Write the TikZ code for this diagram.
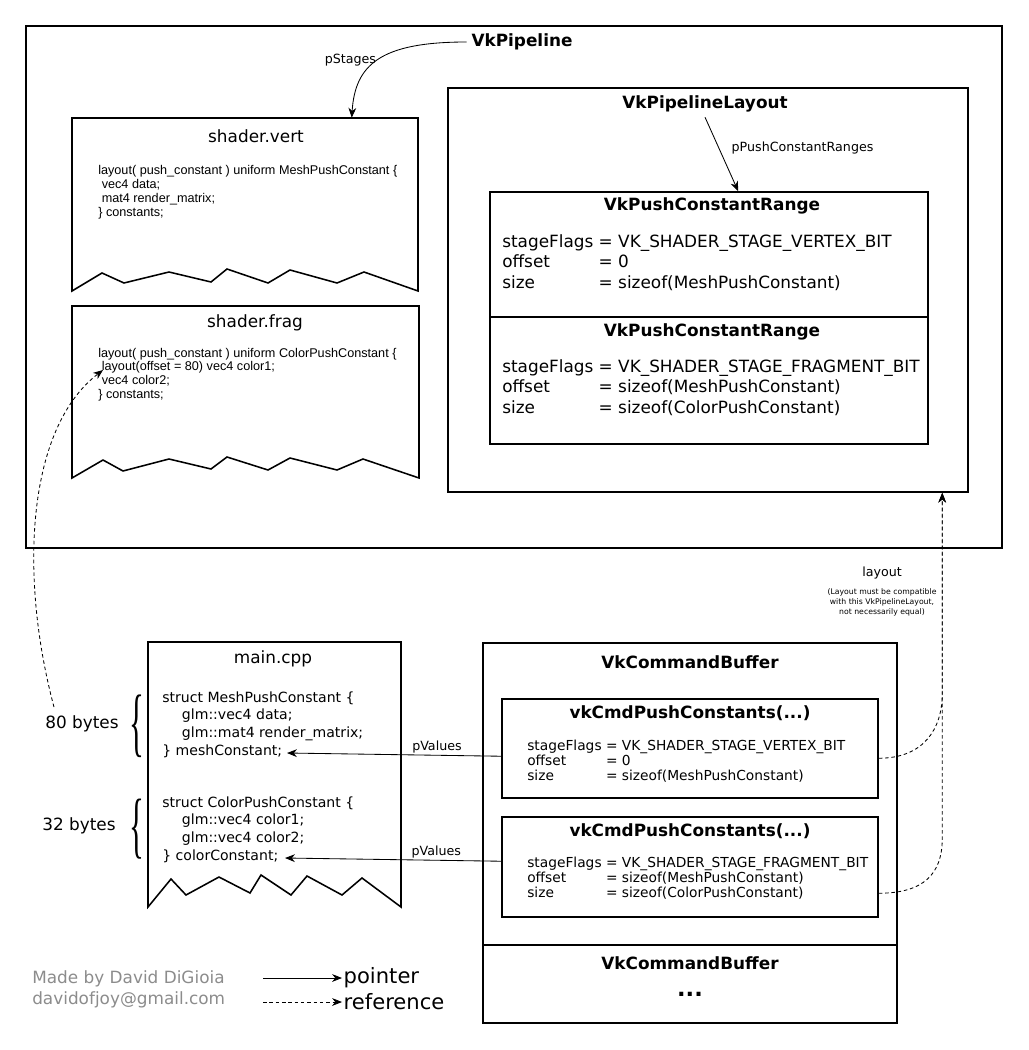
\documentclass[tikz,border=0pt]{standalone}
\usepackage{fontspec}
\setmainfont{DejaVu Sans}
\newfontfamily\codefont{Liberation Sans}
\newfontfamily\bracefont{Liberation Serif}
\usepackage{graphicx}
\usepackage{xcolor}
\definecolor{madeGray}{HTML}{8C8C8C}
\usetikzlibrary{arrows.meta,fit,calc}

\tikzset{
  frame/.style={draw, line width=1.1pt, inner sep=0pt},
  doc/.style={draw, line width=1.1pt},
  title/.style={font=\bfseries\fontsize{12}{14}\selectfont},
  file/.style={font=\fontsize{12}{14}\selectfont},
  lbl/.style={font=\fontsize{9}{11}\selectfont, inner sep=1pt},
  code/.style={font=\codefont\fontsize{9}{9.75}\selectfont, inner sep=0pt, anchor=base west},
  cpp/.style={font=\fontsize{10}{12.6}\selectfont, inner sep=0pt, anchor=base west},
  field/.style={font=\fontsize{12}{14.6}\selectfont, inner sep=0pt, anchor=base west},
  call/.style={font=\fontsize{9.8}{11}\selectfont, inner sep=0pt, anchor=base west},
  curly/.style={font=\bracefont\fontsize{22}{22}\selectfont, inner sep=0pt},
  ptr/.style={-{Stealth[length=7pt,width=5.5pt,inset=2.2pt]}, line width=0.6pt},
  ref/.style={ptr, dash pattern=on 2.5pt off 2pt},
}

\begin{document}
\begin{tikzpicture}[x=0.025cm, y=-0.025cm]
  \useasboundingbox (0,0) rectangle (1028,1050);

  % pipeline
  \node[frame, fit={(26,26) (1002,548)}] (pipe) {};
  \node[title] (pipetitle) at (522,42) {VkPipeline};

  % shader.vert
  \draw[doc] (72,118) -- (418,118) -- (418,291) -- (364,272) -- (337,283) -- (290,270) -- (268,283) -- (227,269) -- (211,282) -- (169,272) -- (124,283) -- (102,273) -- (72,291) -- cycle;
  \node[fit={(72,118) (418,291)}, inner sep=0pt] (vert) {};
  \node[file] (verttitle) at (256,136) {shader.vert};
  \node[code] (vertcode) at (98,175) {\begin{tabular}[t]{@{}l@{}}layout( push\_constant ) uniform MeshPushConstant \{\\ ~vec4 data;\\ ~mat4 render\_matrix;\\ \} constants;\end{tabular}};

  % shader.frag
  \draw[doc] (72,306) -- (419,306) -- (419,478) -- (363,459) -- (337,470) -- (290,458) -- (268,470) -- (227,457) -- (211,469) -- (169,459) -- (123,471) -- (103,460) -- (72,478) -- cycle;
  \node[fit={(72,306) (419,478)}, inner sep=0pt] (frag) {};
  \node[file] (fragtitle) at (255,323) {shader.frag};
  \node[code] (fragcode) at (98,357) {\begin{tabular}[t]{@{}l@{}}layout( push\_constant ) uniform ColorPushConstant \{\\ ~layout(offset = 80) vec4 color1;\\ ~vec4 color2;\\ \} constants;\end{tabular}};
  \coordinate (fragtip) at (103,370);

  % pipeline layout
  \node[frame, fit={(448,88) (968,492)}] (layout) {};
  \node[title] (laytitle) at (705,104) {VkPipelineLayout};
  \node[frame, fit={(490,192) (928,444)}] (ranges) {};
  \draw[line width=1.1pt] ($(ranges.north west)+(0,126)$) -- ($(ranges.north east)+(0,126)$);
  \node[title] (rangeAtitle) at (712,206) {VkPushConstantRange};
  \node[field] (rangeA) at (502,247) {\begin{tabular}[t]{@{}l@{\ }l@{}}stageFlags & = VK\_SHADER\_STAGE\_VERTEX\_BIT\\ offset & = 0\\ size & = sizeof(MeshPushConstant)\end{tabular}};
  \node[title] (rangeBtitle) at (712,332) {VkPushConstantRange};
  \node[field] (rangeB) at (502,372) {\begin{tabular}[t]{@{}l@{\ }l@{}}stageFlags & = VK\_SHADER\_STAGE\_FRAGMENT\_BIT\\ offset & = sizeof(MeshPushConstant)\\ size & = sizeof(ColorPushConstant)\end{tabular}};
  \coordinate (laytip) at ($(layout.south west)+(495,0)$);

  \draw[ptr] (pipetitle.west) .. controls (380,42) and (355,65) .. node[lbl, left, pos=0.5] {pStages} ($(vert.north west)+(280,0)$);
  \draw[ptr] (laytitle.south) -- node[lbl, right=8pt, pos=0.41] {pPushConstantRanges} ($(ranges.north west)+(249,0)$);

  % main.cpp
  \draw[doc] (148,642) -- (401,642) -- (401,907) -- (362,878) -- (342,895) -- (307,876) -- (291,895) -- (261,875) -- (250,893) -- (219,877) -- (186,895) -- (171,879) -- (148,907) -- cycle;
  \node[file] (maintitle) at (273,659) {main.cpp};
  \node[cpp] (meshcode) at (162,702) {\begin{tabular}[t]{@{}l@{}}struct MeshPushConstant \{\\ \hspace{14pt}glm::vec4 data;\\ \hspace{14pt}glm::mat4 render\_matrix;\\ \} meshConstant;\end{tabular}};
  \node[cpp] (colorcode) at (162,807) {\begin{tabular}[t]{@{}l@{}}struct ColorPushConstant \{\\ \hspace{14pt}glm::vec4 color1;\\ \hspace{14pt}glm::vec4 color2;\\ \} colorConstant;\end{tabular}};
  \coordinate (meshend) at (287,753);
  \coordinate (colorend) at (285,858);

  \node[file] (b80) at (82,724) {80 bytes};
  \node[curly] (braceA) at (137,726) {\scalebox{1}[2.45]{\{}};
  \node[file] (b32) at (79,826) {32 bytes};
  \node[curly] (braceB) at (137,829) {\scalebox{1}[2.35]{\{}};
  \coordinate (bytesfrom) at (54,707);

  % command buffer
  \node[frame, fit={(483,643) (897,1023)}] (cmdbuf) {};
  \draw[line width=1.1pt] ($(cmdbuf.south west)+(0,-79)$) -- ($(cmdbuf.south east)+(0,-79)$);
  \node[title] (cmdtitle) at (690,662) {VkCommandBuffer};
  \node[frame, fit={(502,699) (878,798)}] (cmdA) {};
  \node[title] (cmdAtitle) at (690,713) {vkCmdPushConstants(...)};
  \node[call] (cmdAargs) at (527,750) {\begin{tabular}[t]{@{}l@{\ }l@{}}stageFlags & = VK\_SHADER\_STAGE\_VERTEX\_BIT\\ offset & = 0\\ size & = sizeof(MeshPushConstant)\end{tabular}};
  \node[frame, fit={(502,817) (878,917)}] (cmdB) {};
  \node[title] (cmdBtitle) at (690,831) {vkCmdPushConstants(...)};
  \node[call] (cmdBargs) at (527,867) {\begin{tabular}[t]{@{}l@{\ }l@{}}stageFlags & = VK\_SHADER\_STAGE\_FRAGMENT\_BIT\\ offset & = sizeof(MeshPushConstant)\\ size & = sizeof(ColorPushConstant)\end{tabular}};
  \node[title] (nexttitle) at (690,963) {VkCommandBuffer};
  \node[font=\bfseries\fontsize{16}{16}\selectfont] (dots) at (690,994) {...};

  \draw[ptr] ($(cmdA.north west)+(0,58)$) -- node[lbl, above, pos=0.3] {pValues} (meshend);
  \draw[ptr] ($(cmdB.north west)+(0,45)$) -- node[lbl, above, pos=0.3] {pValues} (colorend);

  \node[lbl] (laylbl) at (882,573) {layout};
  \node[font=\fontsize{5.5}{7.1}\selectfont, align=center, inner sep=0pt] (laynote) at (882,602) {(Layout must be compatible\\with this VkPipelineLayout,\\not necessarily equal)};
  \draw[ref] ($(cmdA.north east)+(0,60)$) .. controls +(45,0) and +(0,35) .. ($(laytip)+(0,201)$) -- (laytip);
  \draw[ref] ($(cmdB.north east)+(0,77)$) .. controls +(45,0) and +(0,35) .. ($(laytip)+(0,346)$) -- (laytip);
  \draw[ref] (bytesfrom) .. controls (20,580) and (25,430) .. (fragtip);

  % legend
  \node[font=\fontsize{12}{15.6}\selectfont, text=madeGray, inner sep=0pt, anchor=base west] (made) at (32,983) {\begin{tabular}[t]{@{}l@{}}Made by David DiGioia\\ davidofjoy@gmail.com\end{tabular}};
  \node[font=\fontsize{15}{18}\selectfont, anchor=west, inner sep=1pt] (ptrlbl) at (342,978) {pointer};
  \node[font=\fontsize{15}{18}\selectfont, anchor=west, inner sep=1pt] (reflbl) at (342,1002) {reference};
  \coordinate (ptrfrom) at (263,978);
  \coordinate (reffrom) at (263,1002);
  \draw[ptr] (ptrfrom) -- (ptrlbl.west);
  \draw[ref] (reffrom) -- (reflbl.west);
\end{tikzpicture}
\end{document}
